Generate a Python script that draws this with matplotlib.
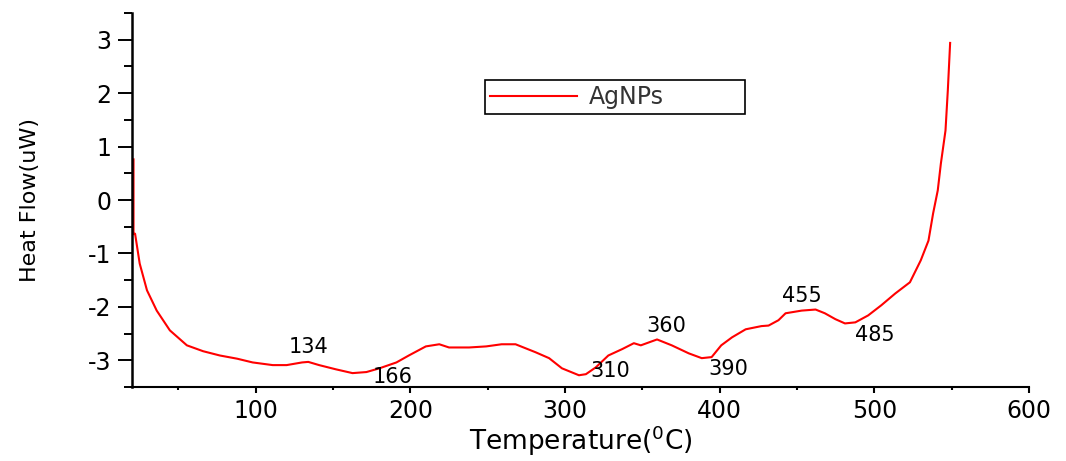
import matplotlib
matplotlib.use("Agg")
import matplotlib.pyplot as plt
from matplotlib.ticker import MultipleLocator

# DSC trace of the silver nanoparticles
temp = [21, 21, 22, 25, 29.7, 36, 44.5, 55.5, 66, 76.8, 88, 98, 111, 120, 130,
        134, 141, 152, 162.6, 171.6, 180, 191, 199, 210, 218.7, 225, 238, 249,
        259, 268, 281, 289.7, 298, 309, 313.5, 320, 328, 337, 344.5, 349, 359.5,
        369, 380, 388.4, 394.8, 401, 408, 416.8, 427, 431.6, 438, 442.6, 453,
        462, 468, 474.8, 481, 487.7, 496, 504.5, 513.5, 523, 530, 535, 538, 541,
        543, 546, 547.5, 549]
heat = [0.76, -0.64, -0.63, -1.19, -1.69, -2.07, -2.44, -2.72, -2.83, -2.91,
        -2.97, -3.04, -3.09, -3.09, -3.04, -3.03, -3.09, -3.17, -3.24, -3.22,
        -3.15, -3.04, -2.91, -2.74, -2.70, -2.76, -2.76, -2.74, -2.70, -2.70,
        -2.85, -2.96, -3.15, -3.28, -3.26, -3.13, -2.91, -2.79, -2.68, -2.72,
        -2.61, -2.72, -2.87, -2.96, -2.94, -2.72, -2.57, -2.42, -2.36, -2.35,
        -2.25, -2.12, -2.07, -2.05, -2.12, -2.23, -2.31, -2.29, -2.16, -1.97,
        -1.75, -1.54, -1.13, -0.76, -0.25, 0.18, 0.68, 1.30, 2.05, 2.94]

# peak / dip labels
peak_labels = ["134", "166", "310", "360", "390", "455", "485"]
label_x = [134, 188.6, 329, 365.5, 405.8, 453, 500]
label_y = [-2.76, -3.31, -3.20, -2.35, -3.16, -1.79, -2.53]

plt.rcParams['font.family'] = ['DejaVu Sans']
plt.rcParams['axes.unicode_minus'] = False

fig = plt.figure(figsize=(10.66, 4.61), dpi=100)
ax = fig.add_axes([0.1238, 0.1605, 0.8415, 0.8113])

ax.plot(temp, heat, color="red", lw=1.5, label="AgNPs")

for txt, x, y in zip(peak_labels, label_x, label_y):
    ax.text(x, y, txt, ha="center", va="center", fontsize=15, color="black")

ax.set_xlim(20, 600)
ax.set_ylim(-3.5, 3.5)
ax.xaxis.set_major_locator(MultipleLocator(100))
ax.xaxis.set_minor_locator(MultipleLocator(50))
ax.yaxis.set_major_locator(MultipleLocator(1))
ax.yaxis.set_minor_locator(MultipleLocator(0.5))

ax.spines["top"].set_visible(False)
ax.spines["right"].set_visible(False)
ax.spines["left"].set_linewidth(1.8)
ax.spines["bottom"].set_linewidth(1.5)

ax.tick_params(axis="y", which="major", direction="out", length=10, width=1.4,
               labelsize=17, pad=5)
ax.tick_params(axis="y", which="minor", direction="out", length=5.5, width=1.4)
ax.tick_params(axis="x", which="major", direction="out", length=4.3, width=1.5,
               labelsize=17, pad=4)
ax.tick_params(axis="x", which="minor", direction="out", length=2.2, width=1.5)

ax.set_xlabel(r"Temperature($^{0}$C)", fontsize=19, labelpad=1)
ax.set_ylabel("Heat Flow(uW)", fontsize=16)
ax.yaxis.set_label_coords(-0.103, 0.5)

leg = ax.legend(loc="center", bbox_to_anchor=(0.394, 0.735, 0.289, 0.0805),
                mode="expand", fontsize=17, handlelength=3.7, handletextpad=0.5,
                fancybox=False, framealpha=1, borderaxespad=0, borderpad=0.2)
leg.get_frame().set_edgecolor("black")
leg.get_frame().set_linewidth(1.2)
for t in leg.get_texts():
    t.set_color("#333333")

fig.savefig("out.png", dpi=100)
